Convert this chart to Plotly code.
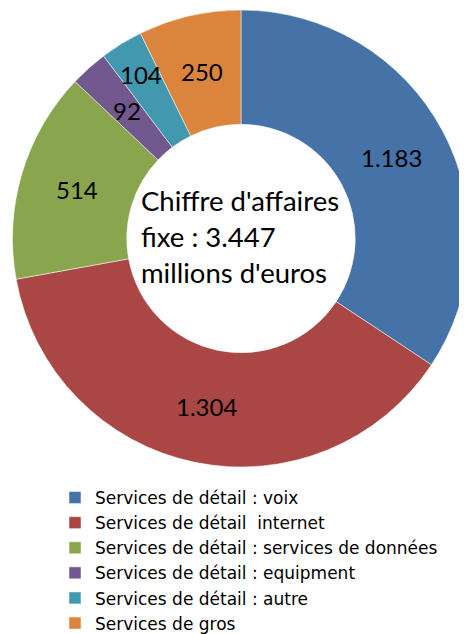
import math
import plotly.graph_objects as go

categories = [
    "Services de détail : voix",
    "Services de détail  internet",
    "Services de détail : services de données",
    "Services de détail : equipment",
    "Services de détail : autre",
    "Services de gros",
]
values = [1183, 1304, 514, 92, 104, 250]
value_labels = ["1.183", "1.304", "514", "92", "104", "250"]
colors = ["#4572A7", "#AA4643", "#89A54E", "#71588F", "#4198AF", "#DB843D"]
center_text = "Chiffre d'affaires<br>fixe : 3.447<br>millions d'euros"

# label distance from centre, as a fraction of the outer radius
# (the "autre" label is pushed outward as in the original to avoid the "equipment" label)
label_radius = [0.75, 0.75, 0.75, 0.75, 0.84, 0.75]

W, H = 467, 634
OFF = 8  # page body margin of the browser
HOLE = 0.5
DOM_X = [(12.5 - OFF) / W, (469.5 - OFF) / W]
DOM_Y = [1 - (467 - OFF) / H, 1 - (10 - OFF) / H]

fig = go.Figure(go.Pie(
    labels=categories,
    values=values,
    textinfo="none",
    marker=dict(colors=colors, line=dict(width=0.5, color="white")),
    hole=HOLE,
    sort=False,
    direction="clockwise",
    rotation=0,
    domain=dict(x=DOM_X, y=DOM_Y),
    hoverinfo="label+value",
))

# data labels placed on each ring segment (angles derived from the values)
dom_w = (DOM_X[1] - DOM_X[0]) * W
dom_h = (DOM_Y[1] - DOM_Y[0]) * H
radius = min(dom_w, dom_h) / 2
cx = (DOM_X[0] + DOM_X[1]) / 2
cy = (DOM_Y[0] + DOM_Y[1]) / 2
total = sum(values)
cum = 0
for v, lab, lr in zip(values, value_labels, label_radius):
    ang = 2 * math.pi * (cum + v / 2) / total
    cum += v
    r = radius * lr
    fig.add_annotation(
        text=lab, xref="paper", yref="paper",
        x=cx + r * math.sin(ang) / W, y=cy + r * math.cos(ang) / H,
        xanchor="center", yanchor="middle", showarrow=False,
        font=dict(family="Lato", size=24, color="black"),
    )

fig.add_annotation(
    text=center_text, xref="paper", yref="paper",
    x=131 / W, y=1 - 228 / H, xanchor="left", yanchor="middle",
    align="left", showarrow=False,
    font=dict(family="Lato", size=27.5, color="black"),
)

fig.update_layout(
    width=W, height=H,
    margin=dict(l=0, r=0, t=0, b=0, autoexpand=False),
    paper_bgcolor="white", plot_bgcolor="white",
    showlegend=True,
    legend=dict(
        x=47 / W, y=1 - 472 / H, xanchor="left", yanchor="top",
        font=dict(family="DejaVu Sans", size=17, color="black"),
        tracegroupgap=0, itemwidth=30,
    ),
)

fig.write_html("out.html")
